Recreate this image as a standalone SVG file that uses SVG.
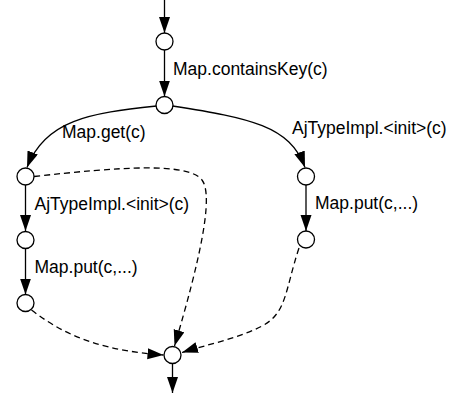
<svg xmlns="http://www.w3.org/2000/svg" width="450" height="396" viewBox="0 0 450 396">
<style>
.n{fill:#fff;stroke:#000;stroke-width:1.3}
.e{fill:none;stroke:#000;stroke-width:1.3;marker-end:url(#ah)}
.d{stroke-dasharray:6 4}
text{font-family:"Liberation Sans",Arial,sans-serif;font-size:17.5px;fill:#000}
</style>
<defs>
<marker id="ah" markerUnits="userSpaceOnUse" markerWidth="16" markerHeight="12" refX="16" refY="5.5" orient="auto">
<path d="M0,0 L16,5.5 L0,11 z" fill="#000"/>
</marker>
</defs>
<g id="connectors">
<path class="e" d="M164.5,0 L164.5,33"/>
<path class="e" d="M164.5,50 L164.5,96.5"/>
<path class="e" d="M156.5,106 C 90,113 45,120 27,167.5"/>
<path class="e" d="M172.5,106 C 250,118 290,126 305,167.5"/>
<path class="e" d="M25.5,185 L25.5,231"/>
<path class="e" d="M25.5,248.5 L25.5,294.5"/>
<path class="e" d="M306,185 L306,231"/>
<path class="e d" d="M34,176.5 C 120,167 188,162 202,180 C 214,196 200,260 174.5,346"/>
<path class="e d" d="M31.5,310 C 70,340 110,351 163.5,355"/>
<path class="e d" d="M299,248 C 285,290 287,313 262,326 C 237,339 205,345 182,352.5"/>
<path class="e" d="M172.5,364 L172.5,393"/>
</g>
<g id="n1"><circle class="n" cx="164.5" cy="41.5" r="8.5"/></g>
<g id="n2"><circle class="n" cx="164.5" cy="105" r="8.5"/></g>
<g id="n3"><circle class="n" cx="25.5" cy="176.5" r="8.5"/></g>
<g id="n4"><circle class="n" cx="25.5" cy="240" r="8.5"/></g>
<g id="n5"><circle class="n" cx="25.5" cy="303" r="8.5"/></g>
<g id="n6"><circle class="n" cx="306" cy="176.5" r="8.5"/></g>
<g id="n7"><circle class="n" cx="306" cy="239.5" r="8.5"/></g>
<g id="n8"><circle class="n" cx="172.5" cy="355" r="8.5"/></g>
<g id="labels">
<text x="173" y="75">Map.containsKey(c)</text>
<text x="62" y="138">Map.get(c)</text>
<text x="292" y="134">AjTypeImpl.&lt;init&gt;(c)</text>
<text x="34.5" y="210">AjTypeImpl.&lt;init&gt;(c)</text>
<text x="34.5" y="273">Map.put(c,...)</text>
<text x="315" y="209">Map.put(c,...)</text>
</g>
</svg>
